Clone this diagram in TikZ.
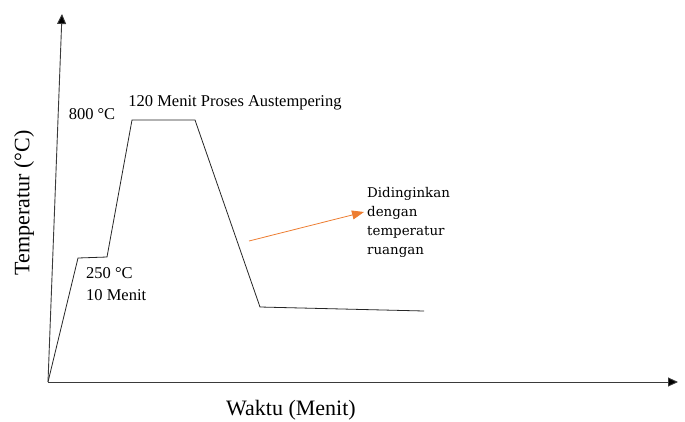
\documentclass[tikz,border=0pt]{standalone}
\usepackage{fontspec}
\setmainfont{Liberation Serif}
\newfontfamily\notefont{DejaVu Serif}
\usepackage{xcolor}
\usepackage{tikz}
\usetikzlibrary{arrows.meta,positioning}
\definecolor{notearrow}{HTML}{ED7D31}
\definecolor{axisline}{HTML}{3A3A3A}

\begin{document}
\begin{tikzpicture}[x=1pt, y=-1pt,
  axis/.style={-{Triangle[length=10pt, width=9pt, fill=black]}, line width=0.9pt, axisline},
  curve/.style={line width=0.8pt, black!85},
  note/.style={-{Triangle[length=12pt, width=9pt]}, line width=0.8pt, notearrow},
  lbl/.style={inner sep=0pt, font=\fontsize{16.5}{22}\selectfont, align=left},
  axislbl/.style={inner sep=0pt, font=\fontsize{22}{26}\selectfont}
]
  \useasboundingbox (0,0) rectangle (685,421);

  \coordinate (origin) at (48,382);
  \coordinate (ytop) at (62,14);
  \coordinate (xend) at (678,382);
  \coordinate (heat1) at (78,258);
  \coordinate (hold1) at (107,257);
  \coordinate (heat2) at (132,120);
  \coordinate (hold2) at (195,120);
  \coordinate (cool) at (260,307);
  \coordinate (room) at (424,311);
  \coordinate (tail) at (249,241);
  \coordinate (head) at (364,212);

  \draw[axis] (origin) -- (ytop);
  \draw[axis] (origin) -- (xend);
  \draw[curve] (origin) -- (heat1) -- (hold1) -- (heat2) -- (hold2) -- (cool) -- (room);
  \draw[note] (tail) -- (head);

  \node[lbl] (t800) at (92,114) {800 °C};
  \node[lbl] (t120) at (235,103) {120 Menit Proses Austempering};
  \node[lbl, anchor=north west] (t250) at (86,267) {250 °C\\10 Menit};
  \node[inner sep=0pt, anchor=north west, align=left, font=\notefont\fontsize{13.4}{19}\selectfont] (cooled) at (367,187) {Didinginkan\\dengan\\temperatur\\ruangan};
  \node[axislbl, rotate=90] (ylbl) at (24,203) {Temperatur (°C)};
  \node[axislbl] (xlbl) at (291,410) {Waktu (Menit)};
\end{tikzpicture}
\end{document}
